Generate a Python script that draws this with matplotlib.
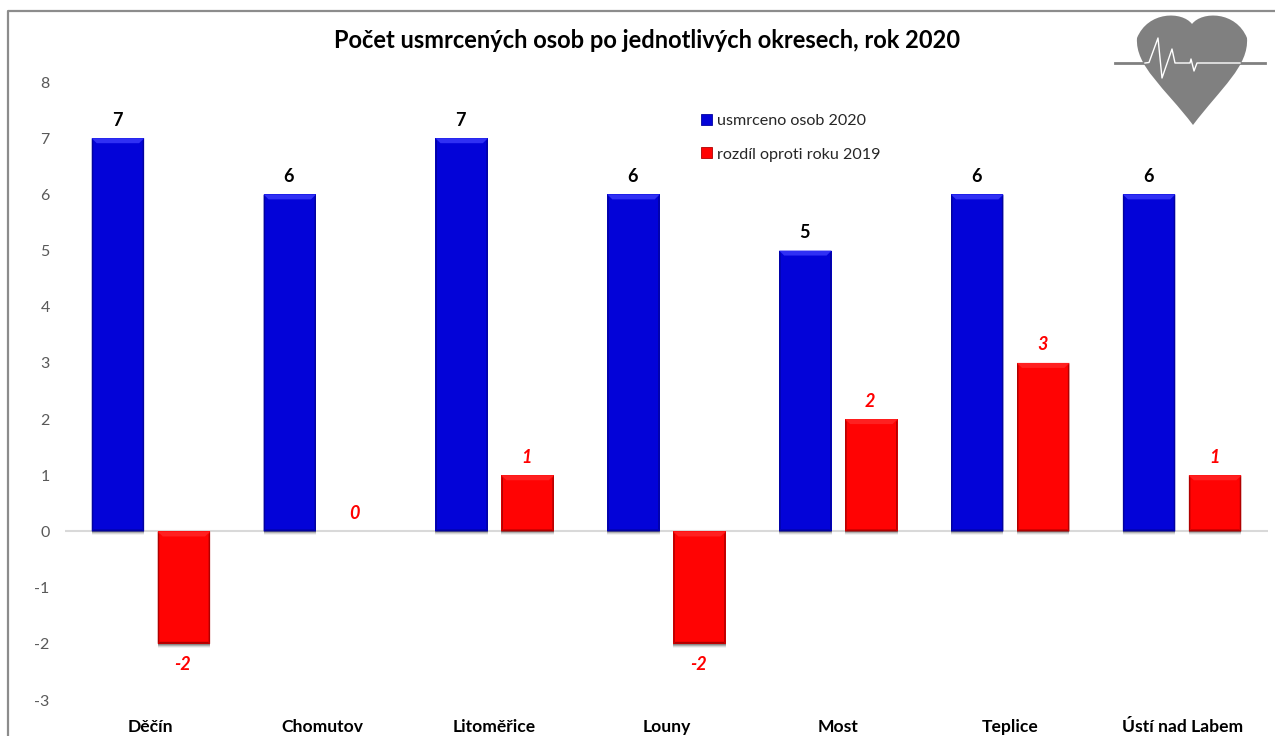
import matplotlib
matplotlib.use("Agg")
import matplotlib.pyplot as plt
from matplotlib.lines import Line2D
from matplotlib.patches import Patch, Polygon, PathPatch, Rectangle
from matplotlib.path import Path
from matplotlib.transforms import Affine2D

categories = ["Děčín", "Chomutov", "Litoměřice", "Louny", "Most", "Teplice", "Ústí nad Labem"]
killed_2020 = [7, 6, 7, 6, 5, 6, 6]
diff_2019 = [-2, 0, 1, -2, 2, 3, 1]
y_ticks = [-3, -2, -1, 0, 1, 2, 3, 4, 5, 6, 7, 8]
title = "Počet usmrcených osob po jednotlivých okresech, rok 2020"
legend_labels = ["usmrceno osob 2020", "rozdíl oproti roku 2019"]

W, H = 1275, 736
plt.rcParams["font.family"] = ["Lato", "DejaVu Sans"]
plt.rcParams["axes.unicode_minus"] = False
fig = plt.figure(figsize=(W / 100, H / 100), dpi=100)
ax = fig.add_axes([65 / W, 1 - 700 / H, (1268 - 65) / W, (700 - 82) / H])
ax.set_xlim(-0.5, len(categories) - 0.5)
ax.set_ylim(-3, 8)
for s in ax.spines.values():
    s.set_visible(False)
ax.set_yticks(y_ticks)
ax.tick_params(axis="y", length=0, pad=11, labelsize=11.5, labelcolor="#595959")
ax.set_xticks([])
ax.axhline(0, color="#d9d9d9", lw=1.5, zorder=1)

# pixel space transform (origin top-left of the reference)
px = Affine2D().scale(1, -1).translate(0, H)

BLUE, BLUE_L, BLUE_D = "#0303d8", "#3030f4", "#0202a0"
RED, RED_L, RED_D = "#ff0303", "#ff2020", "#b00000"
width = 0.305
off = 0.192


def bevel(rect, light, dark):
    (x0, y0), (x1, y1) = ax.transData.transform(rect.get_bbox().get_points())
    if y0 > y1:
        y0, y1 = y1, y0
    d = dict(transform=None, zorder=4, lw=0)
    # soft shadow
    for i, a in ((1, .35), (2, .25), (3, .15), (4, .07)):
        fig.add_artist(Rectangle((x0, y0 - i), x1 - x0, i, fc="#404040", alpha=a, lw=0,
                                 transform=None, zorder=1))
    b = 5
    fig.add_artist(Polygon([(x0, y1), (x1, y1), (x1 - b, y1 - b), (x0 + b, y1 - b)], fc=light, **d))
    fig.add_artist(Polygon([(x0, y0), (x1, y0), (x1 - 2, y0 + 2), (x0 + 2, y0 + 2)], fc=dark, **d))
    fig.add_artist(Polygon([(x0, y0), (x0 + 1.5, y0 + 2), (x0 + 1.5, y1 - 3), (x0, y1)], fc=dark, **d))
    fig.add_artist(Polygon([(x1, y0), (x1 - 1.5, y0 + 2), (x1 - 1.5, y1 - 3), (x1, y1)], fc=dark, **d))


fig.canvas.draw()
for i, (a, d) in enumerate(zip(killed_2020, diff_2019)):
    r = ax.bar(i - off, a, width, color=BLUE, zorder=3)[0]
    bevel(r, BLUE_L, BLUE_D)
    ax.annotate(str(a), (i - off, a), xytext=(-1, 18), textcoords="offset pixels",
                ha="center", va="center", fontsize=13, fontweight="bold", color="black")
    r = ax.bar(i + off, d, width, color=RED, zorder=3)[0]
    if d != 0:
        bevel(r, RED_L, RED_D)
    ax.annotate(str(d), (i + off, d), xytext=(-1, -21 if d < 0 else 18), textcoords="offset pixels",
                ha="center", va="center", fontsize=13, fontweight="bold", fontstyle="italic",
                color="#ff0000")
    ax.annotate(categories[i], (i, 0), xycoords=("data", "axes fraction"), xytext=(0, -27),
                textcoords="offset pixels", ha="center", va="center", fontsize=12.6,
                fontweight="bold", color="black", annotation_clip=False)

fig.text(647 / W, 1 - 40 / H, title, ha="center", va="center", fontsize=17, fontweight="bold", color="black")

ax.legend(handles=[Patch(fc=BLUE, ec=BLUE_D, lw=.6), Patch(fc=RED, ec=RED_D, lw=.6)], labels=legend_labels,
          loc="upper left", bbox_to_anchor=((701 - 65) / (1268 - 65), (700 - 113.5) / (700 - 82)),
          frameon=False, fontsize=11.6, labelcolor="#262626", handlelength=0.68, handleheight=0.68,
          handletextpad=0.33, labelspacing=1.22, borderpad=0, borderaxespad=0)

# outer frame
fig.add_artist(Line2D([7.5, 7.5, W], [0, H - 10.5, H - 10.5], transform=None, color="#8c8c8c", lw=1.6, zorder=0))

# heart logo (drawn in reference pixels)
G = "#808080"
verts = [(1192, 24), (1182, 11), (1148, 11), (1137, 38), (1135, 66), (1165, 88), (1193, 125),
         (1221, 88), (1249, 66), (1247, 38), (1236, 11), (1202, 11), (1192, 24), (1192, 24)]
codes = [Path.MOVETO] + [Path.CURVE4] * 12 + [Path.CLOSEPOLY]
fig.add_artist(PathPatch(Path(verts, codes), fc=G, lw=0, transform=px, zorder=5))
fig.add_artist(Line2D([1115, 1265], [63, 63], color=G, lw=2, transform=px, zorder=5))
ecg = [(1145, 63), (1149, 62.5), (1158, 38), (1162, 78), (1172, 49), (1175, 63), (1190, 63), (1191, 59),
       (1194, 71), (1197, 63), (1240, 63)]
fig.add_artist(Line2D([p[0] for p in ecg], [p[1] for p in ecg], color="white", lw=1, transform=px, zorder=6))

fig.savefig("out.png", dpi=100)
